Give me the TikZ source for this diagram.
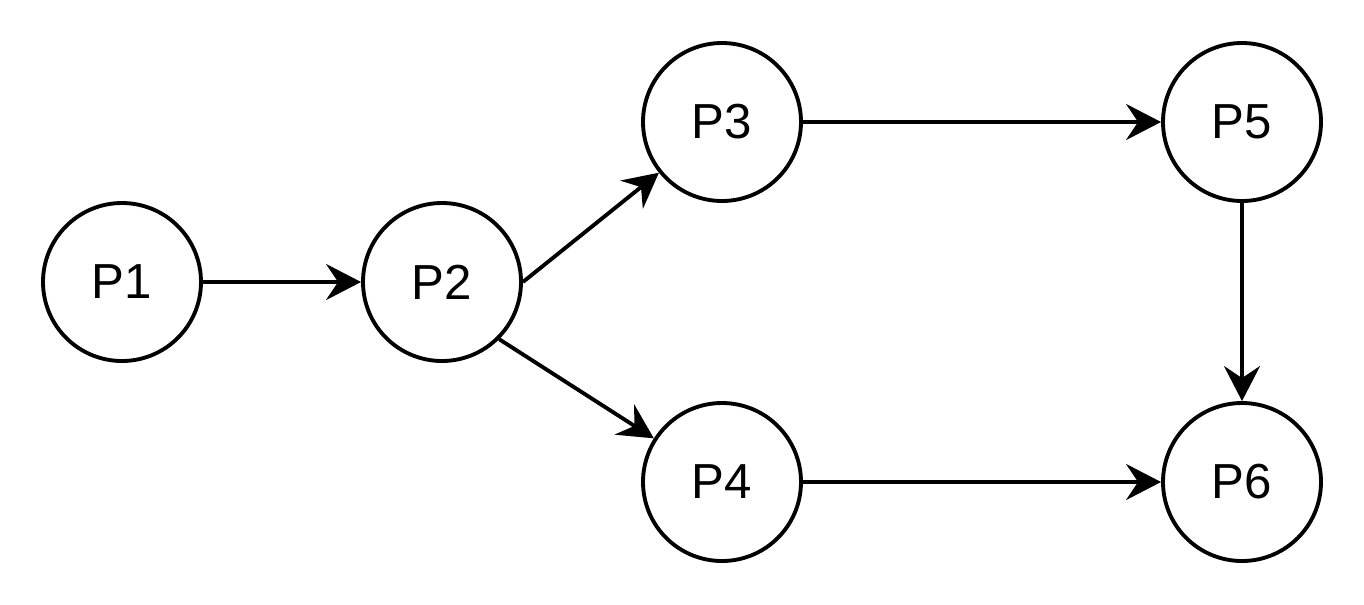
\documentclass[tikz,border=0pt]{standalone}
\usepackage{fontspec}
\setmainfont{Liberation Sans}
\usetikzlibrary{arrows.meta}

\tikzset{
  proc/.style={circle, draw, line width=2.2pt, minimum size=3.16cm, inner sep=0pt,
    font=\fontsize{28}{33}\selectfont},
  flow/.style={line width=2.2pt, -{Stealth[length=0.7cm, width=0.72cm, inset=0.24cm]}}
}

\begin{document}
\begin{tikzpicture}[x=1cm, y=1cm]
  \useasboundingbox (0,0) rectangle (27.28,12.08);
  % --- processes ---
  \node[proc] (p1) at (2.44,6.44)  {P1};
  \node[proc] (p2) at (8.84,6.44)  {P2};
  \node[proc] (p3) at (14.44,9.64) {P3};
  \node[proc] (p4) at (14.44,2.44) {P4};
  \node[proc] (p5) at (24.84,9.64) {P5};
  \node[proc] (p6) at (24.84,2.44) {P6};
  % --- edges ---
  \draw[flow] (p1) -- (p2);
  \draw[flow] (p2.east) -- (p3);
  \draw[flow] (p2.-45) -- (p4);
  \draw[flow] (p3) -- (p5);
  \draw[flow] (p4) -- (p6);
  \draw[flow] (p5) -- (p6);
\end{tikzpicture}
\end{document}
